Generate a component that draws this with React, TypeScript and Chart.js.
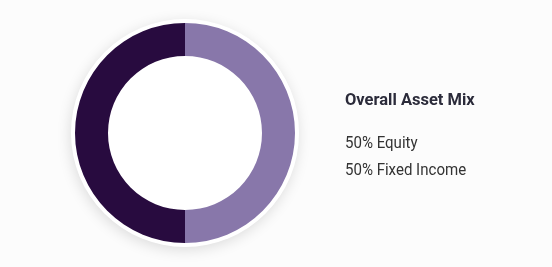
import React, { useEffect, useRef } from "react";
import { Chart, registerables } from "chart.js";

Chart.register(...registerables);

const categories = ["Equity", "Fixed Income"];
const values = [50, 50];
const colors = ["#8877aa", "#280b3f"];
const title = "Overall Asset Mix";

const shadowPlugin = {
  id: "ringShadow",
  beforeDatasetsDraw(chart: any) {
    const meta = chart.getDatasetMeta(0);
    const arc = meta.data[0];
    if (!arc) return;
    const { x, y, outerRadius } = arc.getProps(["x", "y", "outerRadius"], true);
    const ctx = chart.ctx;
    ctx.save();
    ctx.beginPath();
    ctx.arc(x, y, outerRadius + 4, 0, Math.PI * 2);
    ctx.fillStyle = "#ffffff";
    ctx.shadowColor = "rgba(0,0,0,0.13)";
    ctx.shadowBlur = 14;
    ctx.shadowOffsetX = -1;
    ctx.shadowOffsetY = 3;
    ctx.fill();
    ctx.restore();
  },
};

const FONT = "Roboto, sans-serif";

export default function App() {
  const ref = useRef<HTMLCanvasElement>(null);
  useEffect(() => {
    document.body.style.margin = "0";
    document.body.style.background = "#fcfcfc";
    const chart = new Chart(ref.current!, {
      type: "doughnut",
      data: {
        labels: categories,
        datasets: [
          {
            data: values,
            backgroundColor: colors,
            borderWidth: 0,
          },
        ],
      },
      options: {
        animation: false,
        responsive: false,
        cutout: "70%",
        layout: { padding: 23 },
        plugins: {
          legend: { display: false },
          tooltip: { enabled: false },
        },
      },
      plugins: [shadowPlugin],
    });
    return () => chart.destroy();
  }, []);

  return (
    <div style={{ position: "relative", width: 552, height: 267, background: "#fcfcfc" }}>
      <canvas
        ref={ref}
        width={370}
        height={266}
        style={{ position: "absolute", left: 0, top: 0, width: 370, height: 266 }}
      />
      <div
        style={{
          position: "absolute",
          left: 345,
          top: 87,
          fontFamily: FONT,
          fontWeight: 700,
          fontSize: 17,
          lineHeight: "24px",
          color: "#2b2b3a",
          whiteSpace: "nowrap",
          transform: "scaleX(0.97)",
          transformOrigin: "left center",
        }}
      >
        {title}
      </div>
      {categories.map((c, i) => (
        <div
          key={c}
          style={{
            position: "absolute",
            left: 345,
            top: 129 + i * 27,
            fontFamily: FONT,
            fontSize: 16,
            lineHeight: "27px",
            color: "#333333",
            whiteSpace: "nowrap",
            transform: "scaleX(0.94)",
            transformOrigin: "left center",
          }}
        >{`${values[i]}% ${c}`}</div>
      ))}
    </div>
  );
}
